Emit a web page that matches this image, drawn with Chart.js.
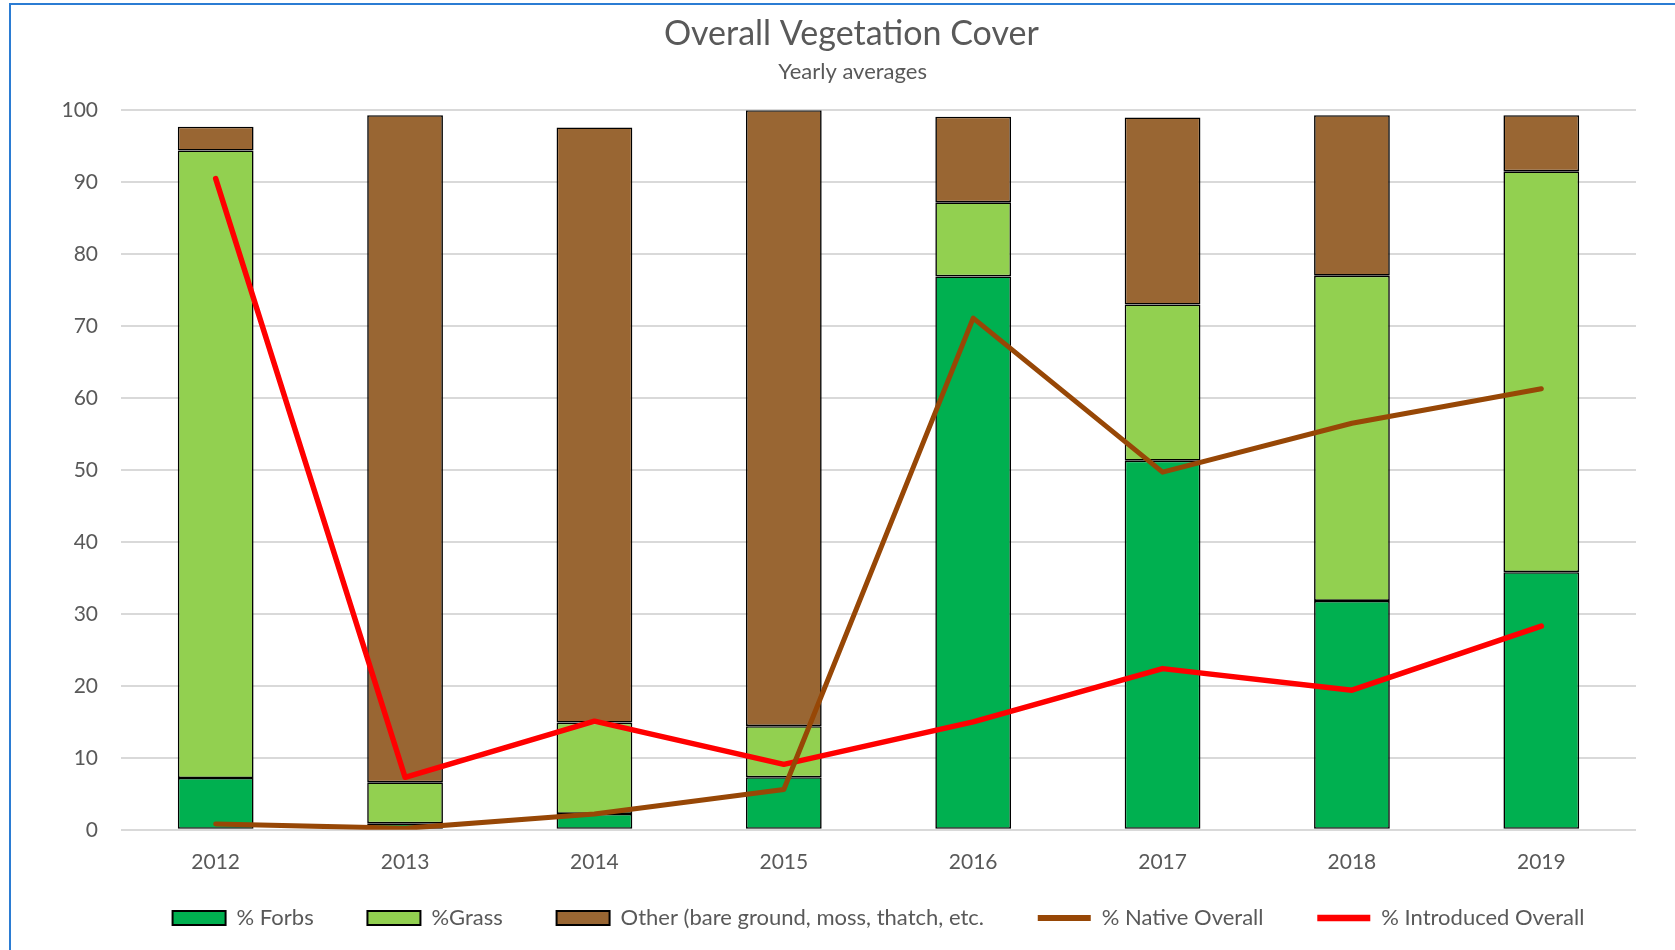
<!DOCTYPE html>
<html lang="en">
<head>
  <meta charset="UTF-8" />
  <title>Overall Vegetation Cover</title>
  <script src="https://cdn.jsdelivr.net/npm/chart.js"></script>
  <style>
    body { margin: 0; background: #fff; }
    #wrap { position: relative; width: 1675px; height: 950px; }
    #frame { position: absolute; left: 9px; top: 3px; right: -5px; bottom: -5px;
             border-left: 2px solid #2b7cd3; border-top: 2px solid #2b7cd3; pointer-events: none; }
  </style>
</head>
<body>
  <div id="wrap">
    <canvas id="vegChart" width="1675" height="950"></canvas>
    <div id="frame"></div>
  </div>

  <script>
    const years = ["2012", "2013", "2014", "2015", "2016", "2017", "2018", "2019"];
    const forbs = [7.2, 0.9, 2.2, 7.3, 76.9, 51.3, 31.8, 35.8];
    const grass = [87.2, 5.7, 12.7, 7.1, 10.3, 21.7, 45.2, 55.7];
    const other = [3.3, 92.7, 82.7, 85.6, 11.9, 26.0, 22.3, 7.8];
    const nativeOverall = [0.8, 0.2, 2.2, 5.6, 71.1, 49.7, 56.5, 61.3];
    const introducedOverall = [90.5, 7.3, 15.1, 9.1, 15.0, 22.4, 19.4, 28.3];

    const font = "Lato, 'Open Sans', sans-serif";
    const grey = "#595959";

    const barSet = (label, data, color) => ({
      type: "bar",
      label, data,
      backgroundColor: color,
      borderColor: "#000",
      borderWidth: 1.6,
      borderSkipped: false,
      stack: "veg",
      categoryPercentage: 1,
      barPercentage: 0.4,
      order: 2
    });

    const lineSet = (label, data, color, width, stack, order) => ({
      type: "line",
      label, data,
      borderColor: color,
      backgroundColor: color,
      borderWidth: width,
      borderCapStyle: "round",
      borderJoinStyle: "round",
      pointRadius: 0,
      tension: 0,
      stack,
      order
    });

    new Chart(document.getElementById("vegChart"), {
      data: {
        labels: years,
        datasets: [
          barSet("% Forbs", forbs, "#00b050"),
          barSet("%Grass", grass, "#92d050"),
          barSet("Other (bare ground, moss, thatch, etc.", other, "#996633"),
          lineSet("% Native Overall", nativeOverall, "#974706", 5, "n", 0),
          lineSet("% Introduced Overall", introducedOverall, "#ff0000", 5.5, "i", 1)
        ]
      },
      options: {
        responsive: false,
        animation: false,
        layout: { padding: { left: 58, right: 39, top: 0, bottom: 11 } },
        plugins: {
          title: {
            display: true,
            // leading space nudges the centred title slightly right
            text: " Overall Vegetation Cover",
            color: grey,
            font: { family: font, size: 34, weight: "normal" },
            padding: { top: 14, bottom: 0 }
          },
          subtitle: {
            display: true,
            text: "  Yearly averages",
            color: grey,
            font: { family: font, size: 22 },
            padding: { top: 4, bottom: 25 }
          },
          legend: {
            position: "bottom",
            fullSize: false,
            labels: {
              color: grey,
              font: { family: font, size: 22 },
              usePointStyle: true,
              pointStyleWidth: 53,
              boxHeight: 14,
              padding: 20,
              generateLabels(chart) {
                const items = Chart.defaults.plugins.legend.labels.generateLabels(chart);
                items.sort((a, b) => a.datasetIndex - b.datasetIndex);
                items.forEach((it, i) => {
                  const ds = chart.data.datasets[it.datasetIndex];
                  it.pointStyle = ds.type === "line" ? "line" : "rect";
                  it.lineWidth = ds.type === "line" ? ds.borderWidth + 1 : 2;
                  // widen the gap to the next entry
                  if (i < items.length - 1) it.text += "      ";
                });
                return items;
              }
            }
          },
          tooltip: { enabled: false }
        },
        scales: {
          x: {
            stacked: true,
            grid: { display: false },
            border: { display: false },
            ticks: { color: grey, font: { family: font, size: 21 }, padding: 12 }
          },
          y: {
            stacked: true,
            min: 0,
            max: 100,
            afterFit: s => { s.width = 63; },
            grid: { color: "#d9d9d9", lineWidth: 2, drawTicks: false },
            border: { display: false },
            ticks: { stepSize: 10, color: grey, font: { family: font, size: 21 }, padding: 23 }
          }
        }
      }
    });
  </script>
</body>
</html>
